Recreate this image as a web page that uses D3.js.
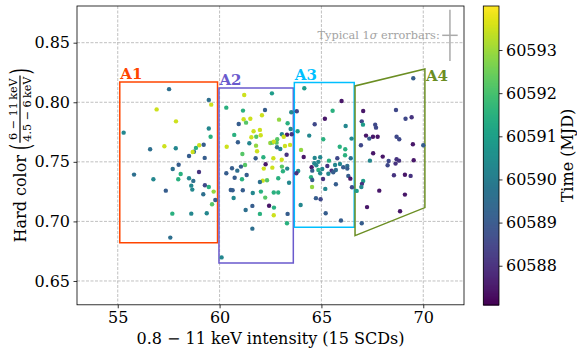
<!DOCTYPE html>
<html>
<head>
<meta charset="utf-8">
<script src="https://cdn.jsdelivr.net/npm/d3@7"></script>
<style>
  html, body { margin: 0; padding: 0; background: #fff; }
  svg { display: block; }
  text { font-family: "DejaVu Serif", serif; }
</style>
</head>
<body>
<svg id="chart" width="577" height="351"></svg>
<script>
// ---------------- DATA ----------------
// Each point: [intensity (15 SCDs), hard colour, time (MJD)]
const pointsA1 = [
  [57.52,0.811,60589.6],[59.47,0.802,60589.6],[59.59,0.798,60593.5],[56.91,0.794,60593.5],
  [57.86,0.784,60593.5],[55.29,0.7745,60590.3],[59.47,0.778,60590.3],[59.56,0.771,60591.5],
  [56.59,0.7606,60589.6],[57.29,0.7631,60593.5],[57.85,0.7614,60590.3],[59.0,0.7639,60593.5],
  [58.84,0.7617,60591.5],[59.22,0.7644,60589.1],[58.74,0.7585,60589.6],[58.68,0.7583,60593.5],
  [58.5,0.7549,60589.1],[59.27,0.7533,60589.1],[57.99,0.7476,60589.1],[57.7,0.744,60589.6],
  [55.8,0.7393,60589.6],[58.99,0.7415,60588.1],[58.09,0.7398,60591.5],[56.75,0.7354,60590.3],
  [57.97,0.7354,60591.5],[58.5,0.7362,60590.3],[58.71,0.734,60589.6],[58.61,0.730,60590.3],
  [58.66,0.7267,60590.3],[59.28,0.7304,60588.6],[59.47,0.7289,60591.5],[59.71,0.725,60592.9],
  [57.36,0.7258,60589.1],[59.2,0.7228,60589.6],[59.79,0.718,60589.1],[59.63,0.7144,60592.2],
  [57.68,0.7065,60591.5],[58.61,0.7065,60590.3],[59.37,0.7069,60590.3],[57.58,0.6864,60589.6]
];
const pointsA2 = [
  [60.1,0.6698,60590.3],[61.21,0.8061,60593.5],[62.57,0.8075,60590.9],[60.33,0.7955,60591.5],
  [61.15,0.793,60591.5],[62.23,0.7935,60589.1],[62.08,0.7891,60593.5],[63.52,0.7916,60590.3],
  [61.18,0.7857,60593.5],[61.51,0.7862,60593.5],[61.3,0.7829,60592.2],[60.94,0.7818,60589.1],
  [62.92,0.7854,60592.9],[63.34,0.7824,60591.5],[61.67,0.7757,60593.5],[61.98,0.7768,60593.5],
  [63.49,0.7776,60590.3],[60.72,0.7726,60591.5],[61.56,0.7706,60593.5],[61.8,0.7711,60592.2],
  [62.02,0.7723,60593.5],[63.06,0.7731,60590.3],[63.31,0.7728,60587.5],[63.54,0.7731,60588.1],
  [62.83,0.7689,60592.2],[63.15,0.7711,60593.5],[62.49,0.7658,60592.9],[62.59,0.7661,60592.2],
  [62.8,0.7661,60592.2],[62.66,0.7669,60593.5],[60.9,0.7664,60589.1],[61.46,0.7656,60590.3],
  [61.79,0.7636,60592.9],[60.35,0.7627,60593.5],[62.98,0.7608,60590.3],[62.82,0.7622,60589.6],
  [63.21,0.7633,60593.5],[63.46,0.7642,60593.5],[61.84,0.7589,60593.5],[61.12,0.7566,60592.2],
  [61.77,0.753,60589.1],[62.15,0.7538,60591.5],[62.64,0.753,60593.5],[63.05,0.7518,60593.5],
  [63.29,0.756,60588.1],[61.25,0.7474,60592.2],[62.26,0.748,60587.5],[62.17,0.7443,60593.5],
  [62.59,0.7451,60593.5],[61.05,0.746,60589.1],[60.61,0.7446,60589.1],[60.87,0.7426,60589.6],
  [60.33,0.7404,60589.1],[61.33,0.739,60589.1],[63.06,0.746,60592.2],[63.32,0.7443,60590.3],
  [63.11,0.7421,60591.5],[60.74,0.7367,60589.1],[61.1,0.7354,60591.5],[62.12,0.7342,60593.5],
  [62.33,0.7346,60592.2],[61.98,0.7331,60589.6],[62.88,0.7362,60591.5],[63.41,0.7325,60590.3],
  [60.55,0.7264,60589.1],[60.64,0.7262,60589.1],[61.14,0.7262,60589.1],[61.63,0.7239,60590.3],
  [62.03,0.725,60591.5],[62.66,0.7242,60591.5],[62.88,0.7242,60591.5],[60.69,0.7197,60590.3],
  [62.24,0.72,60592.2],[61.61,0.713,60589.1],[62.43,0.7132,60587.5],[61.28,0.7096,60589.6],
  [62.67,0.7116,60591.5],[61.98,0.7063,60591.5],[62.66,0.7052,60593.5],[63.34,0.7063,60589.1],
  [63.31,0.6985,60591.5],[61.61,0.6939,60589.6]
];
const pointsA3 = [
  [64.16,0.8117,60590.9],[65.99,0.8011,60587.5],[63.79,0.7924,60588.6],[65.55,0.7929,60591.5],
  [65.17,0.7862,60587.5],[64.67,0.7815,60588.6],[66.19,0.7801,60590.3],[63.83,0.7757,60590.9],
  [64.4,0.772,60590.3],[65.09,0.769,60591.5],[66.48,0.7695,60590.3],[64.0,0.76,60592.9],
  [65.9,0.7627,60591.5],[66.17,0.7606,60591.5],[66.16,0.7555,60591.5],[64.13,0.7541,60587.5],
  [64.67,0.7533,60590.3],[64.94,0.7538,60590.3],[65.37,0.751,60591.5],[65.78,0.753,60588.6],
  [66.44,0.753,60589.6],[64.85,0.75,60590.3],[64.65,0.7488,60590.3],[64.75,0.7471,60590.3],
  [64.52,0.7455,60587.5],[65.29,0.7465,60588.1],[65.67,0.7474,60590.3],[65.91,0.7482,60590.3],
  [66.07,0.7455,60589.1],[66.27,0.7465,60589.6],[64.55,0.7426,60589.1],[64.85,0.7432,60591.5],
  [65.04,0.744,60590.3],[65.5,0.7426,60588.1],[65.71,0.7432,60589.6],[65.58,0.7413,60589.1],
  [66.27,0.7443,60589.1],[63.86,0.7424,60590.3],[63.77,0.7404,60588.1],[66.32,0.7382,60589.1],
  [66.42,0.7359,60587.5],[64.49,0.7371,60591.5],[64.94,0.7404,60590.3],[64.55,0.7348,60589.1],
  [65.08,0.7356,60588.1],[65.34,0.74,60590.3],[64.54,0.7289,60592.9],[65.71,0.7312,60589.1],
  [66.5,0.7287,60588.6],[65.19,0.7273,60590.3],[64.73,0.7195,60589.1],[64.96,0.7186,60588.6],
  [63.98,0.7138,60590.3],[65.21,0.7069,60589.1],[65.96,0.7007,60589.1]
];
const pointsA4 = [
  [69.51,0.8201,60589.1],[67.05,0.7927,60587.5],[68.66,0.7935,60588.6],[66.98,0.784,60588.6],
  [67.04,0.7812,60590.9],[67.64,0.7812,60588.6],[67.68,0.7787,60588.6],[69.13,0.7862,60588.6],
  [69.43,0.7874,60588.1],[67.19,0.772,60587.5],[67.35,0.7695,60589.1],[67.53,0.7711,60587.5],
  [67.76,0.7711,60587.5],[68.69,0.7711,60588.6],[68.82,0.769,60588.6],[66.94,0.7639,60588.6],
  [69.49,0.7648,60587.5],[70.0,0.7639,60589.1],[67.54,0.7572,60587.5],[68.01,0.7544,60587.5],
  [67.38,0.751,60590.3],[68.3,0.7507,60588.6],[68.69,0.7522,60588.1],[68.81,0.751,60588.1],
  [68.25,0.7471,60588.6],[68.64,0.7485,60588.1],[69.53,0.7513,60587.5],[68.56,0.7387,60588.1],
  [69.1,0.7392,60587.5],[69.38,0.7382,60588.1],[67.05,0.734,60590.9],[66.99,0.7315,60588.1],
  [66.96,0.7289,60590.3],[66.73,0.7256,60590.9],[67.84,0.7258,60587.5],[69.1,0.7225,60587.5],
  [67.24,0.712,60587.5],[68.86,0.7085,60587.5],[66.98,0.6985,60589.1]
];

// Region outlines (intensity, hard colour)
const regionA1 = [[55.1,0.682],[59.9,0.682],[59.9,0.817],[55.1,0.817]];
const regionA2 = [[59.97,0.665],[63.62,0.665],[63.62,0.812],[59.97,0.812]];
const regionA3 = [[63.67,0.695],[66.61,0.695],[66.61,0.8165],[63.67,0.8165]];
const regionA4 = [[66.65,0.6881],[70.08,0.7116],[70.08,0.8279],[66.65,0.8137]];
const regionNames = ["A1","A2","A3","A4"];
const regionColors = ["#ff4500","#6a5acd","#00bfff","#6b8e23"];

// Typical 1-sigma error bar: centre, x error, y error
const errCentre = [71.31, 0.8562];
const errXY = [0.38, 0.0215];

// Axes
const xDomain = [53, 72];
const yDomain = [0.63, 0.8808];
const xTicks = [55, 60, 65, 70];
const yTicks = [0.65, 0.70, 0.75, 0.80, 0.85];
const cDomain = [60587.09, 60594.02];
const cTicks = [60588, 60589, 60590, 60591, 60592, 60593];

// ---------------- DRAW ----------------
const svg = d3.select("#chart");
svg.append("rect").attr("width",577).attr("height",351).attr("fill","#fff");

const plot = {left:77, right:464, top:6, bottom:304.8};
const x = d3.scaleLinear().domain(xDomain).range([plot.left, plot.right]);
const y = d3.scaleLinear().domain(yDomain).range([plot.bottom, plot.top]);
const c = d3.scaleSequential(d3.interpolateViridis).domain(cDomain);

// grid
const grid = svg.append("g");
grid.selectAll("line.gx").data(xTicks).enter().append("line")
  .attr("x1", d=>x(d)).attr("x2", d=>x(d)).attr("y1", plot.top).attr("y2", plot.bottom)
  .attr("stroke","#b0b0b0").attr("stroke-width",0.8).attr("stroke-dasharray","3,1.5");
grid.selectAll("line.gy").data(yTicks).enter().append("line")
  .attr("y1", d=>y(d)).attr("y2", d=>y(d)).attr("x1", plot.left).attr("x2", plot.right)
  .attr("stroke","#b0b0b0").attr("stroke-width",0.8).attr("stroke-dasharray","3,1.5");

// region outlines
const regions = [regionA1, regionA2, regionA3, regionA4];
const line = d3.line().x(d=>x(d[0])).y(d=>y(d[1]));
regions.forEach((r,i)=>{
  svg.append("path").attr("d", line(r)+"Z").attr("fill","none")
    .attr("stroke", regionColors[i]).attr("stroke-width",1.5);
});

// points
const allPoints = pointsA1.concat(pointsA2, pointsA3, pointsA4);
svg.append("g").selectAll("circle").data(allPoints).enter().append("circle")
  .attr("cx", d=>x(d[0])).attr("cy", d=>y(d[1])).attr("r", 2.2)
  .attr("fill", d=>c(d[2]));

// region labels
regions.forEach((r,i)=>{
  const t = svg.append("text").text(regionNames[i])
    .attr("font-size",15).attr("font-weight","bold").attr("fill",regionColors[i]);
  if (i < 3) {
    const xs = d3.min(r, d=>d[0]), ys = d3.max(r, d=>d[1]);
    t.attr("x", x(xs)+0.5).attr("y", y(ys)-3);
  } else {
    const xs = d3.max(r, d=>d[0]), ys = d3.max(r, d=>d[1]);
    t.attr("x", x(xs)+1).attr("y", y(ys)+11.5);
  }
});

// error bar annotation
const eg = svg.append("g").attr("stroke","#aaaaaa").attr("stroke-width",1.5);
eg.append("line").attr("x1", x(errCentre[0]-errXY[0])).attr("x2", x(errCentre[0]+errXY[0]))
  .attr("y1", y(errCentre[1])).attr("y2", y(errCentre[1]));
eg.append("line").attr("x1", x(errCentre[0])).attr("x2", x(errCentre[0]))
  .attr("y1", y(errCentre[1]-errXY[1])).attr("y2", y(errCentre[1]+errXY[1]));
const et = svg.append("text").attr("x", x(errCentre[0]-errXY[0])-2.5).attr("y", y(errCentre[1])+3.8)
  .attr("text-anchor","end").attr("font-size",11.3).attr("fill","#a3a3a3");
et.append("tspan").text("Typical 1");
et.append("tspan").text("σ").attr("font-style","italic");
et.append("tspan").text(" errorbars:");

// frame
svg.append("rect").attr("x",plot.left).attr("y",plot.top)
  .attr("width",plot.right-plot.left).attr("height",plot.bottom-plot.top)
  .attr("fill","none").attr("stroke","#000").attr("stroke-width",0.8);

// axes
const xAxis = svg.append("g").attr("transform",`translate(0,${plot.bottom})`)
  .call(d3.axisBottom(x).tickValues(xTicks).tickSize(3.5).tickPadding(3.5).tickSizeOuter(0).tickFormat(d3.format("d")));
const yAxis = svg.append("g").attr("transform",`translate(${plot.left},0)`)
  .call(d3.axisLeft(y).tickValues(yTicks).tickSize(3.5).tickPadding(3.5).tickSizeOuter(0).tickFormat(d3.format(".2f")));
[xAxis,yAxis].forEach(a=>{
  a.select(".domain").remove();
  a.selectAll("text").attr("font-family","DejaVu Serif").attr("font-size",16).attr("fill","#000");
  a.selectAll("line").attr("stroke","#000").attr("stroke-width",0.8);
});

// x label
svg.append("text").attr("x",(plot.left+plot.right)/2).attr("y",344)
  .attr("text-anchor","middle").attr("font-size",16)
  .text("0.8 − 11 keV intensity (15 SCDs)");

// y label with fraction
const yl = svg.append("g").attr("transform",`translate(26,${(plot.top+plot.bottom)/2}) rotate(-90)`);
const fs = 16, fsS = 11.2;
const inner = yl.append("g");
const t1 = inner.append("text").attr("font-size",fs).attr("x",0).attr("y",0).text("Hard color");
const w1 = t1.node().getComputedTextLength();
let cx = w1 + 0.318*fs;
const parenScale = 1.8, parenBase = 3.6;
const lp = inner.append("text").attr("font-size",fs).text("(")
  .attr("transform",`translate(${cx},${parenBase}) scale(1,${parenScale})`);
const wp = lp.node().getComputedTextLength();
cx += wp + 1;
const num = inner.append("text").attr("font-size",fsS).attr("text-anchor","middle").text("6 − 11\u2009keV");
const den = inner.append("text").attr("font-size",fsS).attr("text-anchor","middle").text("4.5 − 6\u2009keV");
const wf = Math.max(num.node().getComputedTextLength(), den.node().getComputedTextLength()) + 2;
const barY = -6;
num.attr("x", cx + wf/2).attr("y", barY - 2.6);
den.attr("x", cx + wf/2).attr("y", barY + 2.8 + 0.73*fsS);
inner.append("line").attr("x1",cx).attr("x2",cx+wf).attr("y1",barY).attr("y2",barY)
  .attr("stroke","#000").attr("stroke-width",1.2);
cx += wf + 1;
inner.append("text").attr("font-size",fs).text(")")
  .attr("transform",`translate(${cx},${parenBase}) scale(1,${parenScale})`);
cx += wp;
inner.attr("transform",`translate(${-cx/2},0)`);

// colorbar
const cb = {left:483.3, right:499, top:6, bottom:305};
const cy = d3.scaleLinear().domain(cDomain).range([cb.bottom, cb.top]);
const steps = d3.range(0, 300);
svg.append("g").selectAll("rect").data(steps).enter().append("rect")
  .attr("x", cb.left).attr("width", cb.right-cb.left)
  .attr("y", i => cb.top + i*(cb.bottom-cb.top)/300)
  .attr("height", (cb.bottom-cb.top)/300 + 0.6)
  .attr("fill", i => c(cDomain[1] - (i+0.5)*(cDomain[1]-cDomain[0])/300));
svg.append("rect").attr("x",cb.left).attr("y",cb.top).attr("width",cb.right-cb.left)
  .attr("height",cb.bottom-cb.top).attr("fill","none").attr("stroke","#000").attr("stroke-width",0.8);
const cAxis = svg.append("g").attr("transform",`translate(${cb.right},0)`)
  .call(d3.axisRight(cy).tickValues(cTicks).tickSize(3.5).tickPadding(3.5).tickSizeOuter(0).tickFormat(d3.format("d")));
cAxis.select(".domain").remove();
cAxis.selectAll("text").attr("font-family","DejaVu Serif").attr("font-size",16).attr("fill","#000");
cAxis.selectAll("line").attr("stroke","#000").attr("stroke-width",0.8);

svg.append("text").attr("transform",`translate(573,${(cb.top+cb.bottom)/2}) rotate(-90)`)
  .attr("text-anchor","middle").attr("font-size",16).text("Time (MJD)");
</script>
</body>
</html>
